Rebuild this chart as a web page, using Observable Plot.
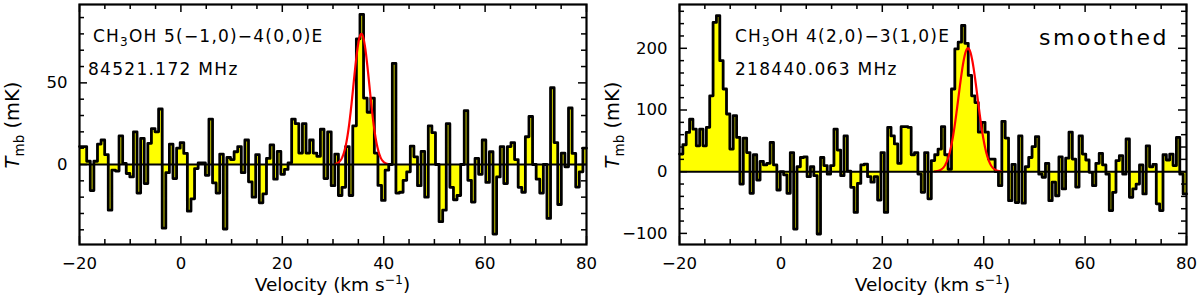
<!DOCTYPE html>
<html><head><meta charset="utf-8">
<script src="https://cdn.jsdelivr.net/npm/d3@7"></script>
<script src="https://cdn.jsdelivr.net/npm/@observablehq/plot@0.6"></script>
<style>
html,body{margin:0;padding:0;background:#fff;}
#wrap{display:flex;width:1200px;height:299px;overflow:hidden;}
svg text{font-family:"DejaVu Sans",sans-serif;}
</style></head><body><div id="wrap"></div>
<script>
// velocity axis (km/s)
const velStart = -20, velEnd = 80;
const xMajorTicks = [-20, 0, 20, 40, 60, 80];
const xMinorTicks = [-15, -10, -5, 5, 10, 15, 25, 30, 35, 45, 50, 55, 65, 70, 75];

// Left panel: CH3OH 5(-1,0)-4(0,0)E, Tmb (mK) per channel from -20 to 80 km/s
const leftTmb = [11, 11, 2, -16, 2, 12.5, 15, 6, -28, -3.5, -4, 17.5, 0.6, -5.5, -7.6, 20, -17.5, 16, -11.7, 13,
  22, 20, 34, -39, -5, 12.5, -8.6, 10, 13.4, 6.8, -28.6, -21, -2.5, 1, 1, -6.6, 27.8, -11.3, -17.5, 6.4,
  -39.5, 4.3, 3, 7.8, 11, -5,
  15, -10.6, -20, 6, -23.5, -18, 3.7, 12, -9, 8, -6, -3, 1, 27.8, 25, 7, 25, 7, 15, 7,
  5, 21.6, -8.6, 20, -13, 6.4, -19, -14, 11, -19, 23.7, 77, 92, 40.7, 32, 40.7, 7, -12.8, -22, -3.5,
  0, 62, -17.5, -17, -9.7, -4.5,
  11.3, 4.7, -13, 8, -20, 23.7, 19.5, 0, -35, -28, 25, -14, -21.6, -19, 0, 33, -9.7, -23, 3.7, -6,
  15, -11, 7.8, -42.6, -7.6, 10.9, -11.7, 11, 13.4, 3, -14, -17, 17, 29.4, 0, -9, -17.5, 0, -33, 47,
  13.4, -24.5, 7, -1.4, 34.6, 6.8, -13.8, -4.5, 10];
const leftYDomain = [-49, 98];
const leftYMajor = [0, 50];
const leftYMinor = [-40, -30, -20, -10, 10, 20, 30, 40, 60, 70, 80, 90];
const leftFit = {amp: 80, center: 35.6, fwhm: 3.7};

// Right panel: CH3OH 4(2,0)-3(1,0)E (smoothed)
const rightTmb = [28.6, 43.7, 63.7, 85, 69, 42, 69, 42, 72, 123,
  242, 253, 180, 134, 93.5, 36.7, 91, 55.6, -20, 54.5,
  31, -35, 27.5, -13.5, 16.7, 11, 13.5, 47.5, 11, -29.7,
  0, -5, -35, 31, -93, 8, 23, 24, -8, 8,
  -6.5, -101, 23, 10, -4, 10, 69, 35, -6.5, 58,
  1, -25.4, -66, -19, 11, 12.4, -8, -17, -8, -46,
  31, -66, 72, 58, 45, 13.5, 73, 73, 72, 27.5,
  31, -3.8, -33.5, 31, -44, 18, 27.5, 36.7, 73, 27.5,
  4, 134, 199, 210, 237, 208, 156, 123, 112, 64,
  80, 64, 20.5, 20.5, 0, -22.7, 81.6, 54.5, -47, 12,
  -50, 58, -51, 8, 23, 40.5, 56.7, -4, -9, 13.5,
  -47, -17, -39, 24, -28, 22, 64, 20.5, -25, 58,
  28.6, 19, -1, -22.7, 13.5, 29.7, 11, -4, -63, -33.5,
  18, 26, -4, 53, -41.6, -28, -20, 11, -36, 42,
  8, 12, -52, -63, 27.5, 19, 28.6, 10, 55.6, -4, -36];
const rightYDomain = [-118, 271];
const rightYMajor = [-100, 0, 100, 200];
const rightYMinor = [-80, -60, -40, -20, 20, 40, 60, 80, 120, 140, 160, 180, 220, 240, 260];
const rightFit = {amp: 200, center: 36.9, fwhm: 4.4};

const fmt = d => d < 0 ? "\u2212" + Math.abs(d) : String(d);

function panel(cfg) {
  const W = 600, H = 299, mL = 79, mR = 14, mT = 4, mB = 55;
  const ph = H - mT - mB, pw = W - mL - mR;
  const n = cfg.values.length, w = (velEnd - velStart) / n;
  const spec = cfg.values.map((t, i) => ({v: velStart + i * w, t}));
  spec.push({v: velEnd, t: cfg.values[n - 1]});
  const f = cfg.fit;
  const model = d3.range(velStart, velEnd + 0.001, 0.05)
    .map(v => ({v, t: f.amp * Math.exp(-4 * Math.LN2 * ((v - f.center) / f.fwhm) ** 2)}))
    .filter(d => d.t > 0.4);
  const minor = 5, major = 8;
  const svg = Plot.plot({
    width: W, height: H, marginLeft: mL, marginRight: mR, marginTop: mT, marginBottom: mB,
    x: {domain: [velStart, velEnd]},
    y: {domain: cfg.yDomain},
    style: {fontFamily: "DejaVu Sans, sans-serif", fontSize: "16.5px", color: "black", background: "white", overflow: "visible"},
    marks: [
      Plot.areaY(spec, {x: "v", y: "t", curve: "step-after", fill: "#ffff00"}),
      Plot.lineY(spec, {x: "v", y: "t", curve: "step-after", stroke: "black", strokeWidth: 2.8}),
      Plot.lineY(model, {x: "v", y: "t", stroke: "#ff0000", strokeWidth: 2.2}),
      Plot.ruleY([0], {stroke: "black", strokeWidth: 2}),
      Plot.tickX(xMinorTicks, {x: d => d, insetTop: ph - minor, stroke: "black", strokeWidth: 1.5}),
      Plot.tickX(xMinorTicks, {x: d => d, insetBottom: ph - minor, stroke: "black", strokeWidth: 1.5}),
      Plot.tickX(xMajorTicks, {x: d => d, insetTop: ph - major, stroke: "black", strokeWidth: 1.5}),
      Plot.tickX(xMajorTicks, {x: d => d, insetBottom: ph - major, stroke: "black", strokeWidth: 1.5}),
      Plot.tickY(cfg.yMinor, {y: d => d, insetRight: pw - minor, stroke: "black", strokeWidth: 1.5}),
      Plot.tickY(cfg.yMinor, {y: d => d, insetLeft: pw - minor, stroke: "black", strokeWidth: 1.5}),
      Plot.tickY(cfg.yMajor, {y: d => d, insetRight: pw - major, stroke: "black", strokeWidth: 1.5}),
      Plot.tickY(cfg.yMajor, {y: d => d, insetLeft: pw - major, stroke: "black", strokeWidth: 1.5}),
      Plot.frame({stroke: "black", strokeWidth: 2.2}),
      Plot.axisX(xMajorTicks, {tickSize: 0, tickPadding: 13, tickFormat: fmt, label: null}),
      Plot.axisY(cfg.yMajor, {tickSize: 0, tickPadding: 12, tickFormat: fmt, label: null})
    ]
  });
  const g = d3.select(svg);
  // y label
  const yl = g.append("text").attr("transform", `translate(19,${mT + ph / 2 + 1}) rotate(-90)`)
    .attr("text-anchor", "middle").style("font-size", "19.5px").attr("fill", "black");
  yl.append("tspan").style("font-style", "italic").text("T");
  yl.append("tspan").attr("dy", 4.5).style("font-size", "13.5px").text("mb");
  yl.append("tspan").attr("dy", -4.5).text("\u00a0(mK)");
  // x label
  const xl = g.append("text").attr("x", mL + pw / 2).attr("y", 290.5).attr("text-anchor", "middle")
    .style("font-size", "18.5px").attr("fill", "black");
  xl.append("tspan").text("Velocity (km s");
  xl.append("tspan").attr("dy", -7).style("font-size", "12.5px").text("\u22121");
  xl.append("tspan").attr("dy", 7).text(")");
  // species
  const sp = g.append("text").attr("x", cfg.specX).attr("y", 41.5).attr("text-anchor", "start")
    .style("font-size", "17px").style("letter-spacing", "1.2px").attr("fill", "black");
  sp.append("tspan").text("CH");
  sp.append("tspan").attr("dy", 4).style("font-size", "12px").text("3");
  sp.append("tspan").attr("dy", -4).text(cfg.species);
  g.append("text").attr("x", cfg.freqX).attr("y", 75).attr("text-anchor", "start").style("font-size", "17px")
    .style("letter-spacing", "1.3px").attr("fill", "black").text(cfg.freq);
  if (cfg.note) {
    g.append("text").attr("x", 569).attr("y", 45).attr("text-anchor", "end").style("font-size", "22px")
      .style("letter-spacing", "2.5px").attr("fill", "black").text(cfg.note);
  }
  return svg;
}

const wrap = document.getElementById("wrap");
wrap.appendChild(panel({values: leftTmb, yDomain: leftYDomain, yMajor: leftYMajor, yMinor: leftYMinor, fit: leftFit,
  species: "OH 5(\u22121,0)\u22124(0,0)E", freq: "84521.172 MHz", specX: 93, freqX: 88}));
wrap.appendChild(panel({values: rightTmb, yDomain: rightYDomain, yMajor: rightYMajor, yMinor: rightYMinor, fit: rightFit,
  species: "OH 4(2,0)\u22123(1,0)E", freq: "218440.063 MHz", specX: 135, freqX: 135, note: "smoothed"}));
</script></body></html>
